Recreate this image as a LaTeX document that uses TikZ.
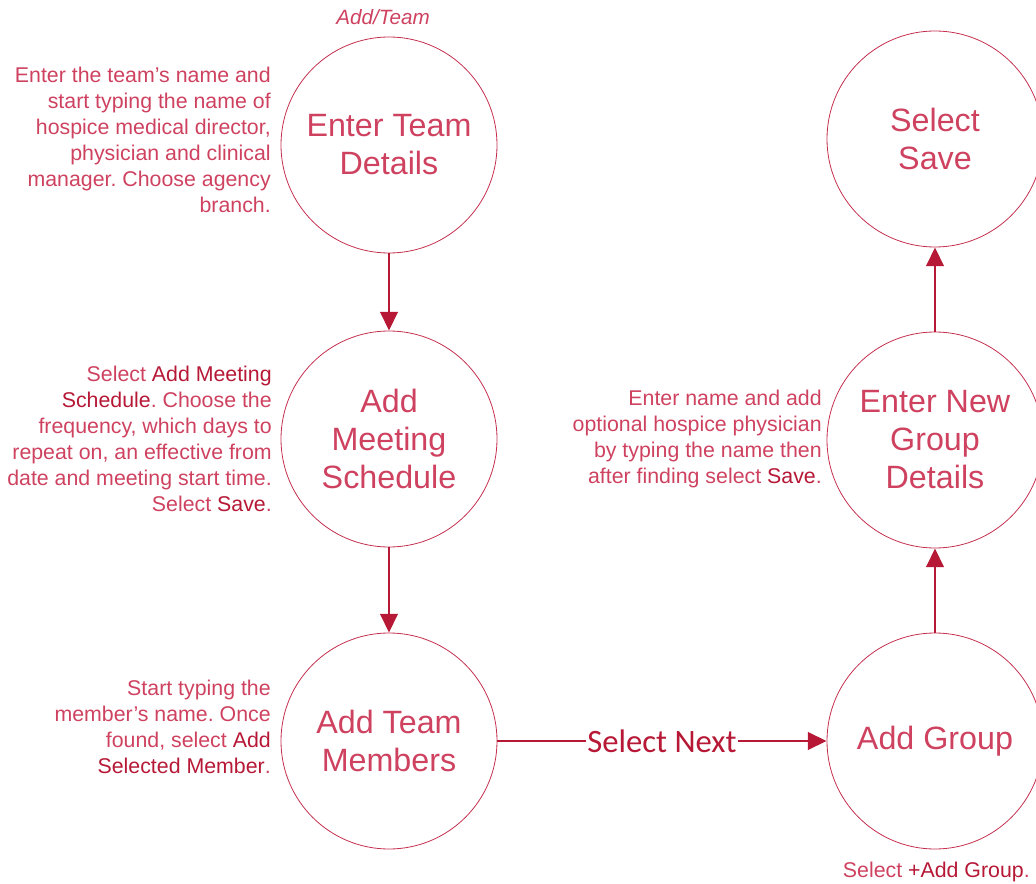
\documentclass[tikz,border=0pt]{standalone}
\usepackage{fontspec}
\setmainfont{Liberation Sans}
\newfontfamily\labelfont{Carlito}
\usetikzlibrary{arrows.meta}
\definecolor{soft}{RGB}{206,66,96}
\definecolor{deep}{RGB}{182,24,54}
\definecolor{ring}{RGB}{196,48,78}
\newcommand{\hl}[1]{{\color{deep}#1}}
\frenchspacing
\begin{document}
\begin{tikzpicture}[x=0.75pt,y=-0.75pt,
  stepcircle/.style={circle, draw=ring, line width=0.6pt, minimum size=162pt,
    inner sep=0pt, align=center, text=soft,
    font=\fontsize{24.2}{28.5}\selectfont},
  note/.style={align=right, anchor=east, text=soft, inner sep=0pt,
    font=\fontsize{16}{19.5}\selectfont},
  flow/.style={draw=deep, line width=2pt,
    -{Triangle[length=14pt,width=13pt]}},
  flowlabel/.style={fill=white, text=deep, inner sep=1pt,
    font=\labelfont\fontsize{24.5}{28}\selectfont}
]
\useasboundingbox (0,0) rectangle (1036,884);

% steps, left column
\node[stepcircle] (team) at (389,145) {Enter Team\\Details};
\node[stepcircle] (meet) at (389,439) {Add\\Meeting\\Schedule};
\node[stepcircle] (members) at (389,741) {Add Team\\Members};

% steps, right column
\node[stepcircle] (group) at (935,741) {Add Group};
\node[stepcircle] (newgrp) at (935,440) {Enter New\\Group\\Details};
\node[stepcircle] (save) at (935,139) {Select\\Save};

% caption above the first step
\node[text=soft, font=\fontsize{15.5}{18}\selectfont\itshape, inner sep=0pt]
  (crumb) at (383,17) {Add/Team};

% explanations beside the steps
\node[note] (teamnote) at (271,140) {Enter the team’s name and\\start typing the name of\\hospice medical director,\\physician and clinical\\manager. Choose agency\\branch.};
\node[note] (meetnote) at (272,439) {Select \hl{Add Meeting}\\\hl{Schedule}. Choose the\\frequency, which days to\\repeat on, an effective from\\date and meeting start time.\\Select \hl{Save}.};
\node[note] (membernote) at (271,727) {Start typing the\\member’s name. Once\\found, select \hl{Add}\\\hl{Selected Member}.};
\node[note] (groupnote) at (822,439) {Enter name and add\\optional hospice physician\\by typing the name then\\after finding select \hl{Save}.};
\node[note] (addnote) at (1030,872) {Select \hl{+Add Group}.};

% flow between steps
\draw[flow] (team) -- (meet);
\draw[flow] (meet) -- (members);
\draw[flow] (members) -- node[flowlabel] {Select Next} (group);
\draw[flow] (group) -- (newgrp);
\draw[flow] (newgrp) -- (save);
\end{tikzpicture}
\end{document}
